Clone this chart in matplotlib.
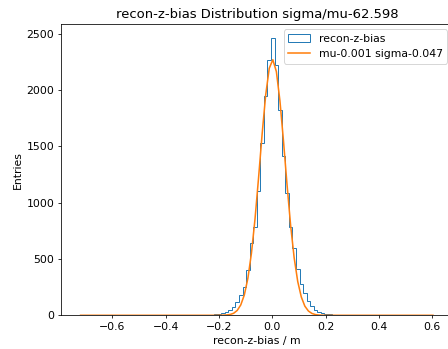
import numpy as np
import matplotlib
matplotlib.use("Agg")
import matplotlib.pyplot as plt

# histogram range / binning (100 bins)
x_lo, x_hi, n_bins = -0.7257, 0.6097, 100

# bin contents (bins 0..99)
counts = [0] * 22 + [
    1, 1, 0, 0, 1, 0, 1, 1, 2, 1,                          # 22-31
    2, 2, 3, 4, 4, 6, 8, 12, 18, 27,                       # 32-41
    47, 71, 121, 180, 254, 403, 640, 788, 1100, 1530,      # 42-51
    1945, 2271, 2464, 2220, 1827, 1411, 1085, 788, 596, 410,  # 52-61
    275, 195, 125, 80, 50, 32, 18, 10, 8, 5,               # 62-71
    4, 3, 2, 2, 1, 1, 0, 1, 0, 1,                          # 72-81
] + [0] * 10 + [1, 1, 0, 0, 0, 0, 0, 1]

# gaussian fit curve, sampled at the bin centres (bins 0..99)
fit = [0] * 39 + [
    1, 1, 3, 7, 18, 43, 92, 181, 329, 552,                 # 39-48
    855, 1222, 1610, 1957, 2194, 2270, 2165, 1905, 1547, 1158,  # 49-58
    800, 510, 300, 163, 81, 38, 16, 6, 2, 1,               # 59-68
] + [0] * 31

hist_label = 'recon-z-bias'
fit_label = 'mu-0.001 sigma-0.047'
title = 'recon-z-bias Distribution sigma/mu-62.598'

edges = np.linspace(x_lo, x_hi, n_bins + 1)
centers = 0.5 * (edges[:-1] + edges[1:])

plt.rcParams['font.size'] = 11.2
plt.rcParams['lines.linewidth'] = 1.6

fig = plt.figure(figsize=(6.4, 349 / 70), dpi=70)
ax = fig.add_axes([0.1362, 0.0966, 0.874, 0.8346])

ax.hist(centers, bins=edges, weights=counts, histtype='step', label=hist_label)
ax.plot(centers, fit, label=fit_label)

ax.set_title(title)
ax.set_xlabel('recon-z-bias / m')
ax.set_ylabel('Entries')
ax.legend(loc='upper right')

fig.savefig('out.png', dpi=70)
